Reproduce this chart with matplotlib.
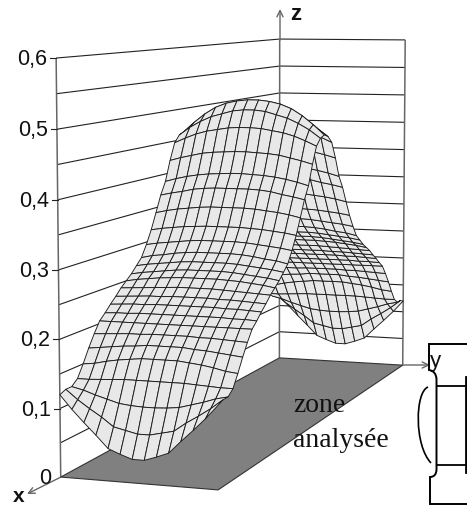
import numpy as np
import matplotlib
matplotlib.use("Agg")
import matplotlib.pyplot as plt
from matplotlib.collections import PolyCollection, LineCollection
from matplotlib.path import Path
from matplotlib.patches import PathPatch, Polygon

# Values
z_ticks = [0.1, 0.2, 0.3, 0.4, 0.5, 0.6]
z_tick_labels = ["0,1", "0,2", "0,3", "0,4", "0,5", "0,6"]
z_levels = [0.05 * k for k in range(1, 13)]

# One quarter of the surface: 25 rows from the front edge to the ridge, 7 columns edge to centre
z_quarter = np.array([
    [.120, .100, .082, .065, .047, .040, .034],
    [.124, .110, .098, .087, .074, .070, .066],
    [.124, .120, .114, .109, .104, .102, .101],
    [.132, .132, .133, .134, .135, .135, .135],
    [.150, .152, .156, .159, .161, .163, .163],
    [.170, .172, .174, .176, .177, .179, .179],
    [.188, .189, .190, .191, .191, .192, .192],
    [.204, .204, .204, .204, .204, .204, .204],
    [.213, .214, .214, .215, .215, .215, .215],
    [.223, .224, .225, .225, .226, .226, .226],
    [.232, .233, .234, .235, .235, .236, .236],
    [.242, .243, .244, .245, .246, .247, .247],
    [.250, .253, .255, .257, .258, .259, .259],
    [.258, .261, .263, .265, .267, .268, .268],
    [.268, .271, .273, .275, .277, .278, .278],
    [.278, .282, .284, .287, .289, .290, .290],
    [.296, .299, .301, .303, .305, .306, .306],
    [.317, .320, .322, .324, .325, .326, .326],
    [.342, .346, .349, .351, .353, .354, .354],
    [.368, .372, .375, .379, .381, .382, .382],
    [.388, .393, .397, .400, .402, .403, .404],
    [.420, .425, .429, .433, .435, .436, .437],
    [.447, .455, .462, .467, .470, .473, .474],
    [.458, .471, .481, .489, .494, .499, .501],
    [.462, .478, .492, .503, .510, .514, .516],
])

# Camera calibration: box corners (x, y, z) and where they fall in the picture
box_world = np.array([[0, 0, 0], [1, 0, 0], [0, 1, 0], [1, 1, 0],
                      [1, 0, .6], [0, 0, .6], [0, 1, .6]], float)
box_pixel = np.array([[279, 358], [61, 477], [403, 365], [218, 490],
                      [56, 58], [280, 39], [405, 40]], float)

A, b = [], []
for (X, Y, Z), (u, v) in zip(box_world, box_pixel):
    A.append([X, Y, Z, 1, 0, 0, 0, 0, -u * X, -u * Y, -u * Z])
    A.append([0, 0, 0, 0, X, Y, Z, 1, -v * X, -v * Y, -v * Z])
    b += [u, v]
p = np.linalg.lstsq(np.array(A, float), np.array(b, float), rcond=None)[0]
P = np.append(p, 1.0).reshape(3, 4)


def project(X, Y, Z):
    X, Y, Z = np.broadcast_arrays(np.asarray(X, float), np.asarray(Y, float), np.asarray(Z, float))
    h = np.stack([X, Y, Z, np.ones_like(X)], axis=-1) @ P.T
    return h[..., 0] / h[..., 2], h[..., 1] / h[..., 2], h[..., 2]


plt.rcParams["font.family"] = ["Liberation Sans", "DejaVu Sans"]
fig = plt.figure(figsize=(4.67, 5.05), dpi=100)
ax = fig.add_axes([0, 0, 1, 1])
ax.set_xlim(0, 467)
ax.set_ylim(505, 0)
ax.axis("off")

# Floor
fx, fy, _ = project([0, 1, 1, 0], [0, 0, 1, 1], [0, 0, 0, 0])
ax.add_patch(Polygon(np.c_[fx, fy], closed=True, fc="#808080", ec="#333333", lw=0.8, zorder=2))

# Walls
wall = []
for z in z_levels:
    a = project([1, 0, 0], [0, 0, 1], [z, z, z])
    wall.append(np.c_[a[0], a[1]])
ax.add_collection(LineCollection(wall, colors="#222222", linewidths=0.8, zorder=1))
vert = []
for X, Y in [(1, 0), (0, 0), (0, 1)]:
    a = project([X, X], [Y, Y], [0, .6])
    vert.append(np.c_[a[0], a[1]])
ax.add_collection(LineCollection(vert, colors="#666666", linewidths=1.1, zorder=1))

# Surface, painted far to near
half = np.hstack([z_quarter, z_quarter[:, ::-1]])
Zg = np.vstack([half, half[-2::-1]])  # row 0 = front (x=1)
xs = np.linspace(1, 0, Zg.shape[0])
ys = np.linspace(0, 1, Zg.shape[1])
XX, YY = np.meshgrid(xs, ys, indexing="ij")
U, V, W = project(XX, YY, Zg)
quads, depth = [], []
for i in range(Zg.shape[0] - 1):
    for j in range(Zg.shape[1] - 1):
        quads.append([(U[i, j], V[i, j]), (U[i + 1, j], V[i + 1, j]),
                      (U[i + 1, j + 1], V[i + 1, j + 1]), (U[i, j + 1], V[i, j + 1])])
        depth.append(W[i:i + 2, j:j + 2].mean())
order = np.argsort(depth)[::-1]
ax.add_collection(PolyCollection([quads[k] for k in order], facecolors="#e8e8e8",
                                 edgecolors="#1c1c1c", linewidths=0.65, zorder=3))

# Tick marks and labels on the left edge
for z, lab in zip(z_ticks, z_tick_labels):
    u, v, _ = project(1, 0, z)
    ax.plot([u - 6, u], [v, v], color="#222222", lw=0.8, zorder=1)
    ax.text(u - 9, v + 1.5, lab, ha="right", va="center", fontsize=15.5, color="#111111")
u0, v0, _ = project(1, 0, 0)
ax.text(u0 - 9, v0 + 1.5, "0", ha="right", va="center", fontsize=15.5, color="#111111")

# Axis arrows
arrow = dict(arrowstyle="->,head_length=0.45,head_width=0.22", color="#666666", lw=1.0, shrinkA=0, shrinkB=0)
ax.annotate("", xy=(280, 9), xytext=(280, 40), arrowprops=arrow, zorder=1)
ax.annotate("", xy=(27, 494), xytext=(61, 477), arrowprops=arrow, zorder=1)
ax.annotate("", xy=(430, 365), xytext=(403, 365), arrowprops=arrow, zorder=1)
ax.text(290, 15, "z", fontsize=16, fontweight="bold", va="center", ha="left", color="#111111")
ax.text(19, 496, "x", fontsize=15, fontweight="bold", va="center", ha="center", color="#111111")
ax.text(435, 362, "y", fontsize=16, va="center", ha="center", color="#111111")

# Zone label
ax.text(293, 412, "zone", family="Liberation Serif", fontsize=20, va="baseline", ha="left", color="#111111", zorder=5)
ax.text(293, 447, "analysée", family="Liberation Serif", fontsize=20, va="baseline", ha="left", color="#111111", zorder=5)

# Specimen sketch
M, L, C3, C4 = Path.MOVETO, Path.LINETO, Path.CURVE3, Path.CURVE4
outline = Path([(467, 344), (429, 344), (429, 370), (436, 371), (436.5, 379), (436.5, 470),
                (436, 477), (430, 477), (430, 504), (467, 504)],
               [M, L, L, C3, C3, L, C3, C3, L, L])
ax.add_patch(PathPatch(outline, fc="none", ec="black", lw=1.4, zorder=4))
for yy in (386, 465):
    ax.plot([437, 465], [yy, yy], color="black", lw=1.3, zorder=4)
ax.plot([466, 466], [377, 472], color="black", lw=2.0, zorder=4)
paren = Path([(428, 387), (415, 392), (414, 445), (431, 463)], [M, C4, C4, C4])
ax.add_patch(PathPatch(paren, fc="none", ec="black", lw=1.2, zorder=4))

fig.savefig("out.png", dpi=100)
